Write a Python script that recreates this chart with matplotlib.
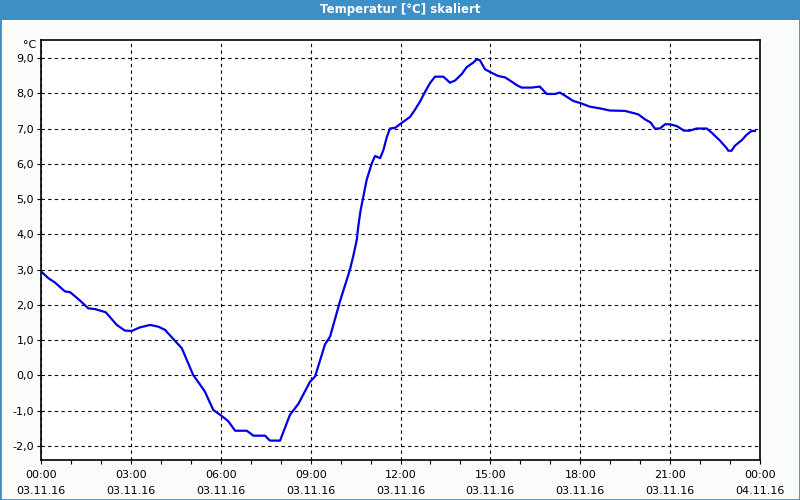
import matplotlib
matplotlib.use("Agg")
import matplotlib.pyplot as plt
from matplotlib.ticker import FixedLocator, FuncFormatter, MultipleLocator
from matplotlib.patches import Rectangle

title = "Temperatur [°C] skaliert"
unit = "°C"

# hours since 03.11.16 00:00 and temperature in °C
hours = [0.0, 0.24, 0.47, 0.80, 0.97, 1.25, 1.58, 1.80, 2.16, 2.53, 2.80, 3.03,
         3.30, 3.64, 3.92, 4.14, 4.47, 4.70, 5.08, 5.25, 5.47, 5.75, 6.03, 6.25,
         6.48, 6.87, 7.09, 7.48, 7.64, 7.98, 8.31, 8.59, 8.98, 9.15, 9.48, 9.65,
         9.98, 10.31, 10.42, 10.54, 10.59, 10.67, 10.76, 10.87, 11.04, 11.15,
         11.32, 11.43, 11.54, 11.65, 11.82, 12.09, 12.32, 12.48, 12.65, 12.82,
         12.98, 13.15, 13.43, 13.55, 13.65, 13.82, 14.04, 14.21, 14.43, 14.54,
         14.65, 14.82, 15.04, 15.26, 15.49, 15.71, 15.88, 16.04, 16.38, 16.65,
         16.88, 17.16, 17.32, 17.55, 17.77, 18.01, 18.32, 18.66, 18.99, 19.49,
         19.72, 19.94, 20.16, 20.35, 20.49, 20.66, 20.83, 20.99, 21.22, 21.46,
         21.66, 21.88, 22.22, 22.39, 22.66, 22.89, 22.94, 23.05, 23.16, 23.39,
         23.55, 23.72, 23.83]
temps = [2.95, 2.76, 2.63, 2.38, 2.36, 2.16, 1.90, 1.88, 1.79, 1.43, 1.27, 1.26,
         1.36, 1.43, 1.38, 1.29, 0.98, 0.77, 0.01, -0.19, -0.46, -0.98, -1.15, -1.30,
         -1.57, -1.57, -1.71, -1.71, -1.85, -1.85, -1.12, -0.81, -0.18, -0.03, 0.88, 1.10,
         2.10, 2.99, 3.37, 3.84, 4.22, 4.69, 5.07, 5.54, 6.01, 6.22,
         6.16, 6.39, 6.75, 7.00, 7.02, 7.19, 7.33, 7.53, 7.76, 8.04,
         8.28, 8.47, 8.47, 8.38, 8.30, 8.36, 8.54, 8.74, 8.87, 8.96,
         8.94, 8.68, 8.58, 8.49, 8.45, 8.33, 8.23, 8.16, 8.16, 8.19,
         7.98, 7.98, 8.02, 7.90, 7.78, 7.72, 7.62, 7.57, 7.51, 7.50,
         7.45, 7.40, 7.26, 7.17, 7.00, 7.00, 7.12, 7.12, 7.07, 6.94,
         6.94, 7.00, 7.00, 6.88, 6.66, 6.44, 6.37, 6.37, 6.51, 6.67,
         6.82, 6.93, 6.93]

xtick_hours = [0, 3, 6, 9, 12, 15, 18, 21, 24]
xtick_labels = ["00:00\n03.11.16", "03:00\n03.11.16", "06:00\n03.11.16",
                "09:00\n03.11.16", "12:00\n03.11.16", "15:00\n03.11.16",
                "18:00\n03.11.16", "21:00\n03.11.16", "00:00\n04.11.16"]
ytick_vals = [-2, -1, 0, 1, 2, 3, 4, 5, 6, 7, 8, 9]

bar_blue = "#3d8fc6"

fig = plt.figure(figsize=(8, 5), dpi=100, facecolor="#fafcfa")
ax = fig.add_axes([41 / 800, 40 / 500, 719 / 800, 420 / 500])
ax.set_facecolor("white")

ax.plot(hours, temps, color="#0000e6", lw=1.6, zorder=3)

ax.set_xlim(0, 24)
ax.set_ylim(-2.40, 9.51)

ax.xaxis.set_major_locator(FixedLocator(xtick_hours))
ax.set_xticklabels(xtick_labels, fontsize=8, linespacing=1.75)
ax.xaxis.set_minor_locator(MultipleLocator(1))
ax.yaxis.set_major_locator(FixedLocator(ytick_vals))
ax.yaxis.set_major_formatter(FuncFormatter(lambda v, p: f"{v:.1f}".replace(".", ",")))
ax.tick_params(axis="y", labelsize=8, length=3, width=0.8, pad=2)
ax.tick_params(axis="x", which="both", length=3, width=0.8, pad=4)

ax.grid(True, color="black", linestyle=(0, (3, 3)), linewidth=0.8)
for s in ax.spines.values():
    s.set_linewidth(1.2)

fig.text(36 / 800, 1 - 45 / 500, unit, ha="right", va="center", fontsize=8)

# title bar and window frame
fig.patches.append(Rectangle((0, 1 - 20 / 500), 1, 20 / 500, transform=fig.transFigure,
                             facecolor=bar_blue, edgecolor="none"))
fig.text(0.5, 1 - 10 / 500, title, ha="center", va="center", color="white",
         fontsize=8.5, fontweight="bold")
fig.patches.append(Rectangle((0, 0), 1, 1, transform=fig.transFigure,
                             facecolor="none", edgecolor=bar_blue, lw=2))

fig.savefig("out.png", dpi=100, facecolor=fig.get_facecolor())
